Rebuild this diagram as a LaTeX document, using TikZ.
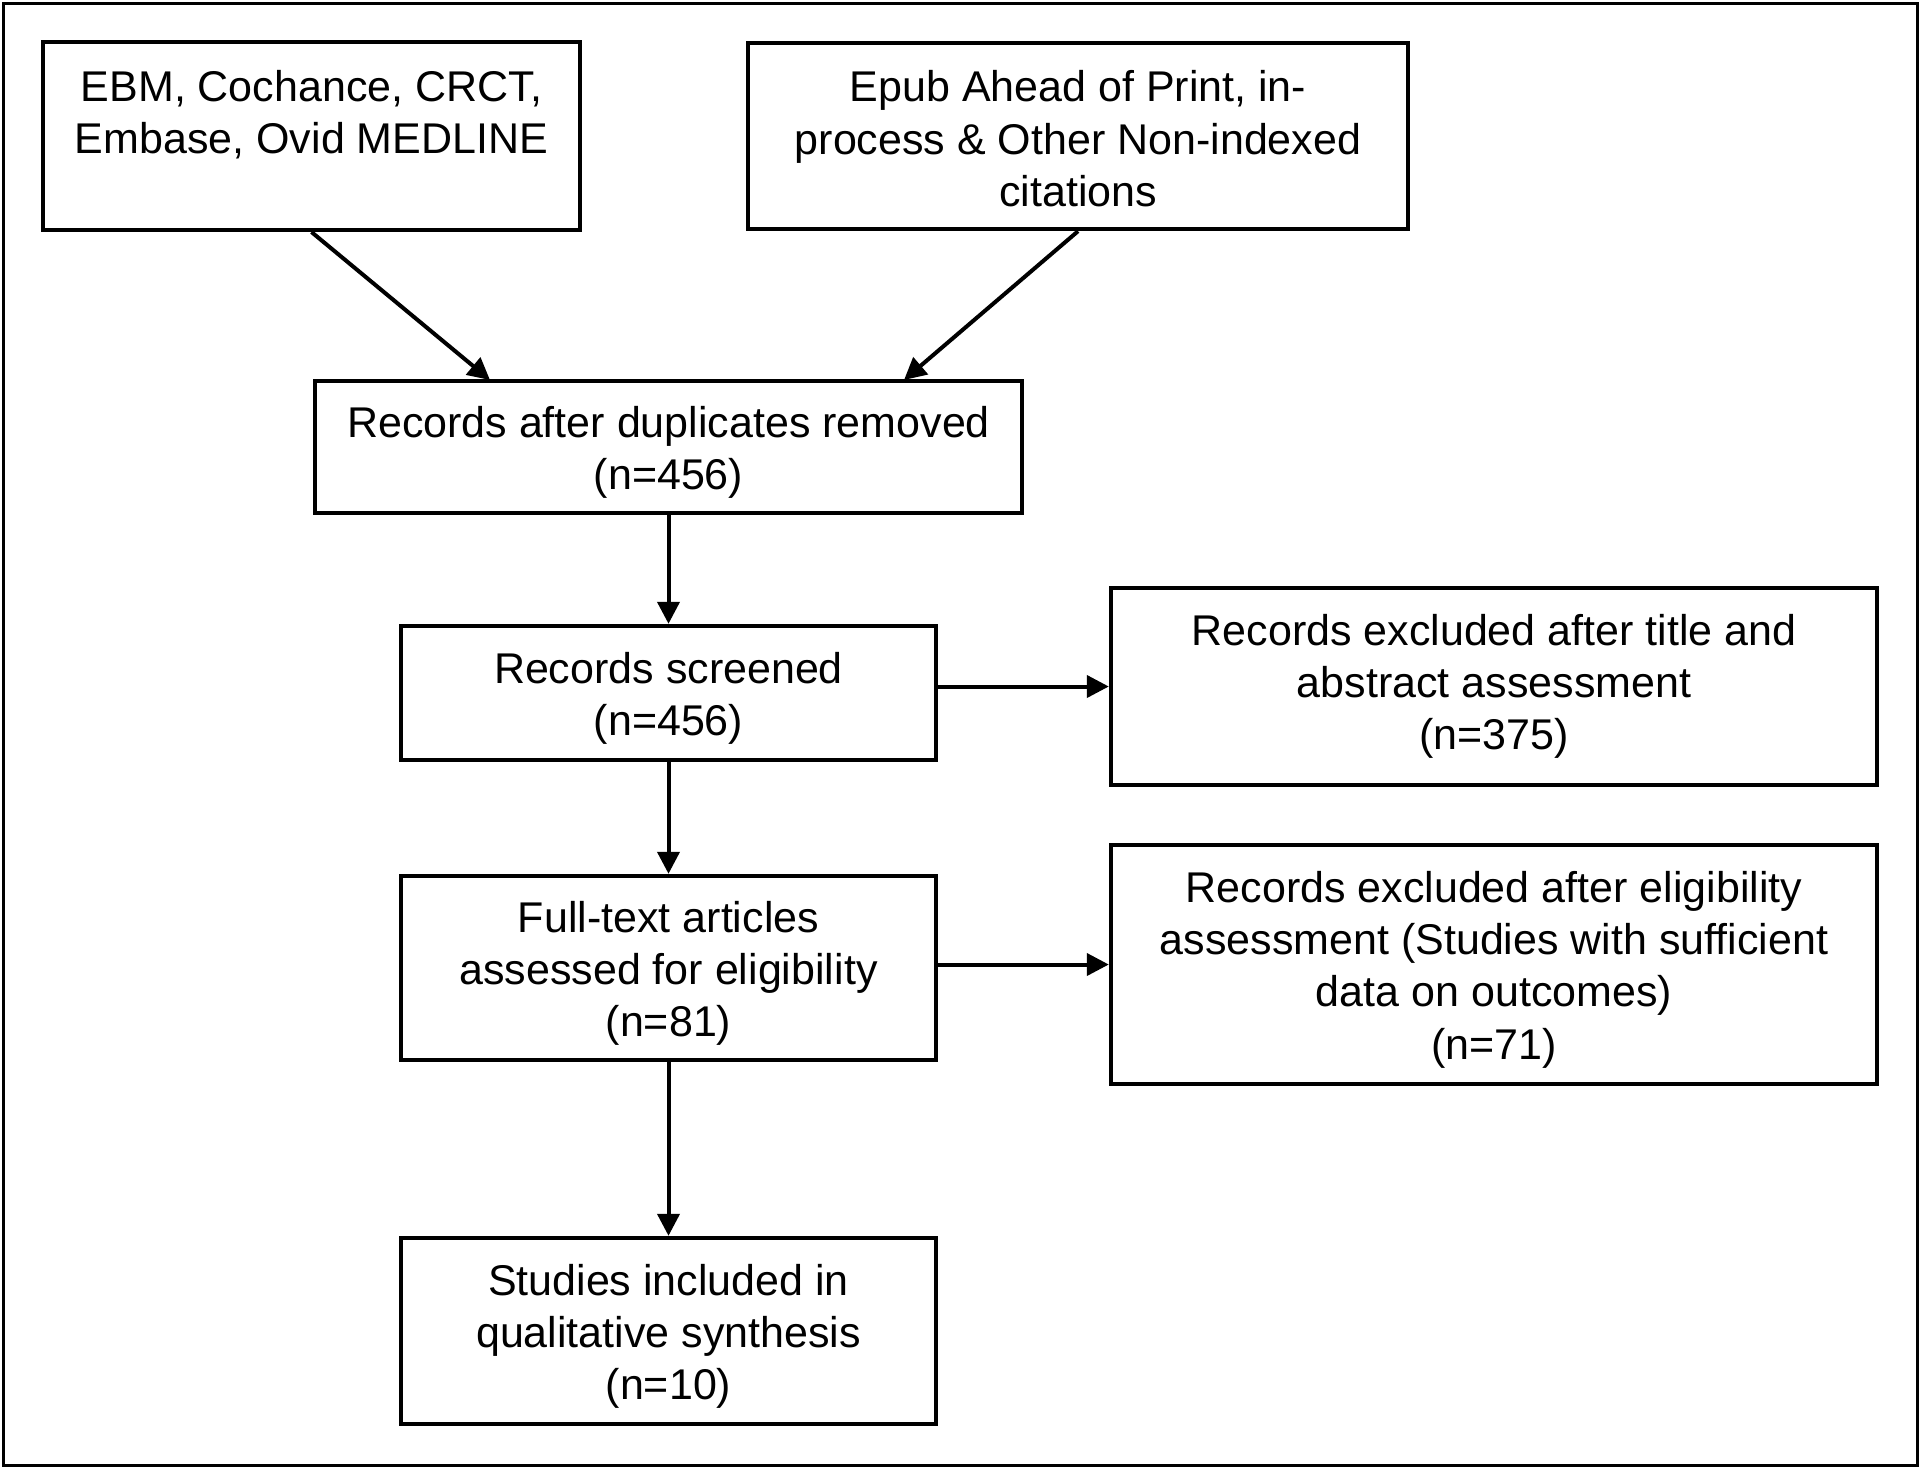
\documentclass[tikz,border=0pt]{standalone}
\usepackage{fontspec}
\setmainfont{Liberation Sans}
\usetikzlibrary{arrows.meta,positioning}
\tikzset{
  box/.style={draw=black,line width=2.2pt,align=center,inner sep=4pt,font=\fontsize{21.5}{26.1}\selectfont},
  low/.style={text height=#1},
  ar/.style={-{Triangle[length=11pt,width=11pt]},line width=2pt}
}
\begin{document}
\begin{tikzpicture}[x=0.5pt,y=-0.5pt]
\useasboundingbox (0,0) rectangle (1920,1468);
\draw[line width=1.5pt] (3,3) rectangle (1917,1465);
\node[box,low=78pt,minimum width=268.5pt,minimum height=93pt] (src1) at (311.5,136) {EBM, Cochance, CRCT,\\Embase, Ovid MEDLINE\\\strut};
\node[box,low=70.5pt,minimum width=330pt,minimum height=93pt] (src2) at (1078,136) {Epub Ahead of Print, in-\\process \& Other Non-indexed\\citations};
\node[box,low=47pt,minimum width=353.5pt,minimum height=66pt] (dedup) at (668.5,447) {Records after duplicates removed\\(n=456)};
\node[box,low=47pt,minimum width=267.5pt,minimum height=67pt] (screen) at (668.5,693) {Records screened\\(n=456)};
\node[box,minimum width=383pt,minimum height=98.5pt] (excl1) at (1494,686.5) {Records excluded after title and\\abstract assessment\\(n=375)};
\node[box,low=73pt,minimum width=267.5pt,minimum height=92pt] (full) at (668.5,968) {Full-text articles\\assessed for eligibility\\(n=81)};
\node[box,low=99pt,minimum width=383pt,minimum height=119.5pt] (excl2) at (1494,964.5) {Records excluded after eligibility\\assessment (Studies with sufficient\\data on outcomes)\\(n=71)};
\node[box,low=73pt,minimum width=267.5pt,minimum height=93pt] (incl) at (668.5,1331) {Studies included in\\qualitative synthesis\\(n=10)};
% merge arrows
\coordinate (m1) at (490,380);
\coordinate (m2) at (904,380);
\draw[ar] (src1.south) -- (m1);
\draw[ar] (src2.south) -- (m2);
\draw[ar] (dedup.south) -- (screen.north);
\draw[ar] (screen.east |- excl1.west) -- (excl1.west);
\draw[ar] (screen.south) -- (full.north);
\draw[ar] (full.east |- excl2.west) -- (excl2.west);
\draw[ar] (full.south) -- (incl.north);
\end{tikzpicture}
\end{document}
